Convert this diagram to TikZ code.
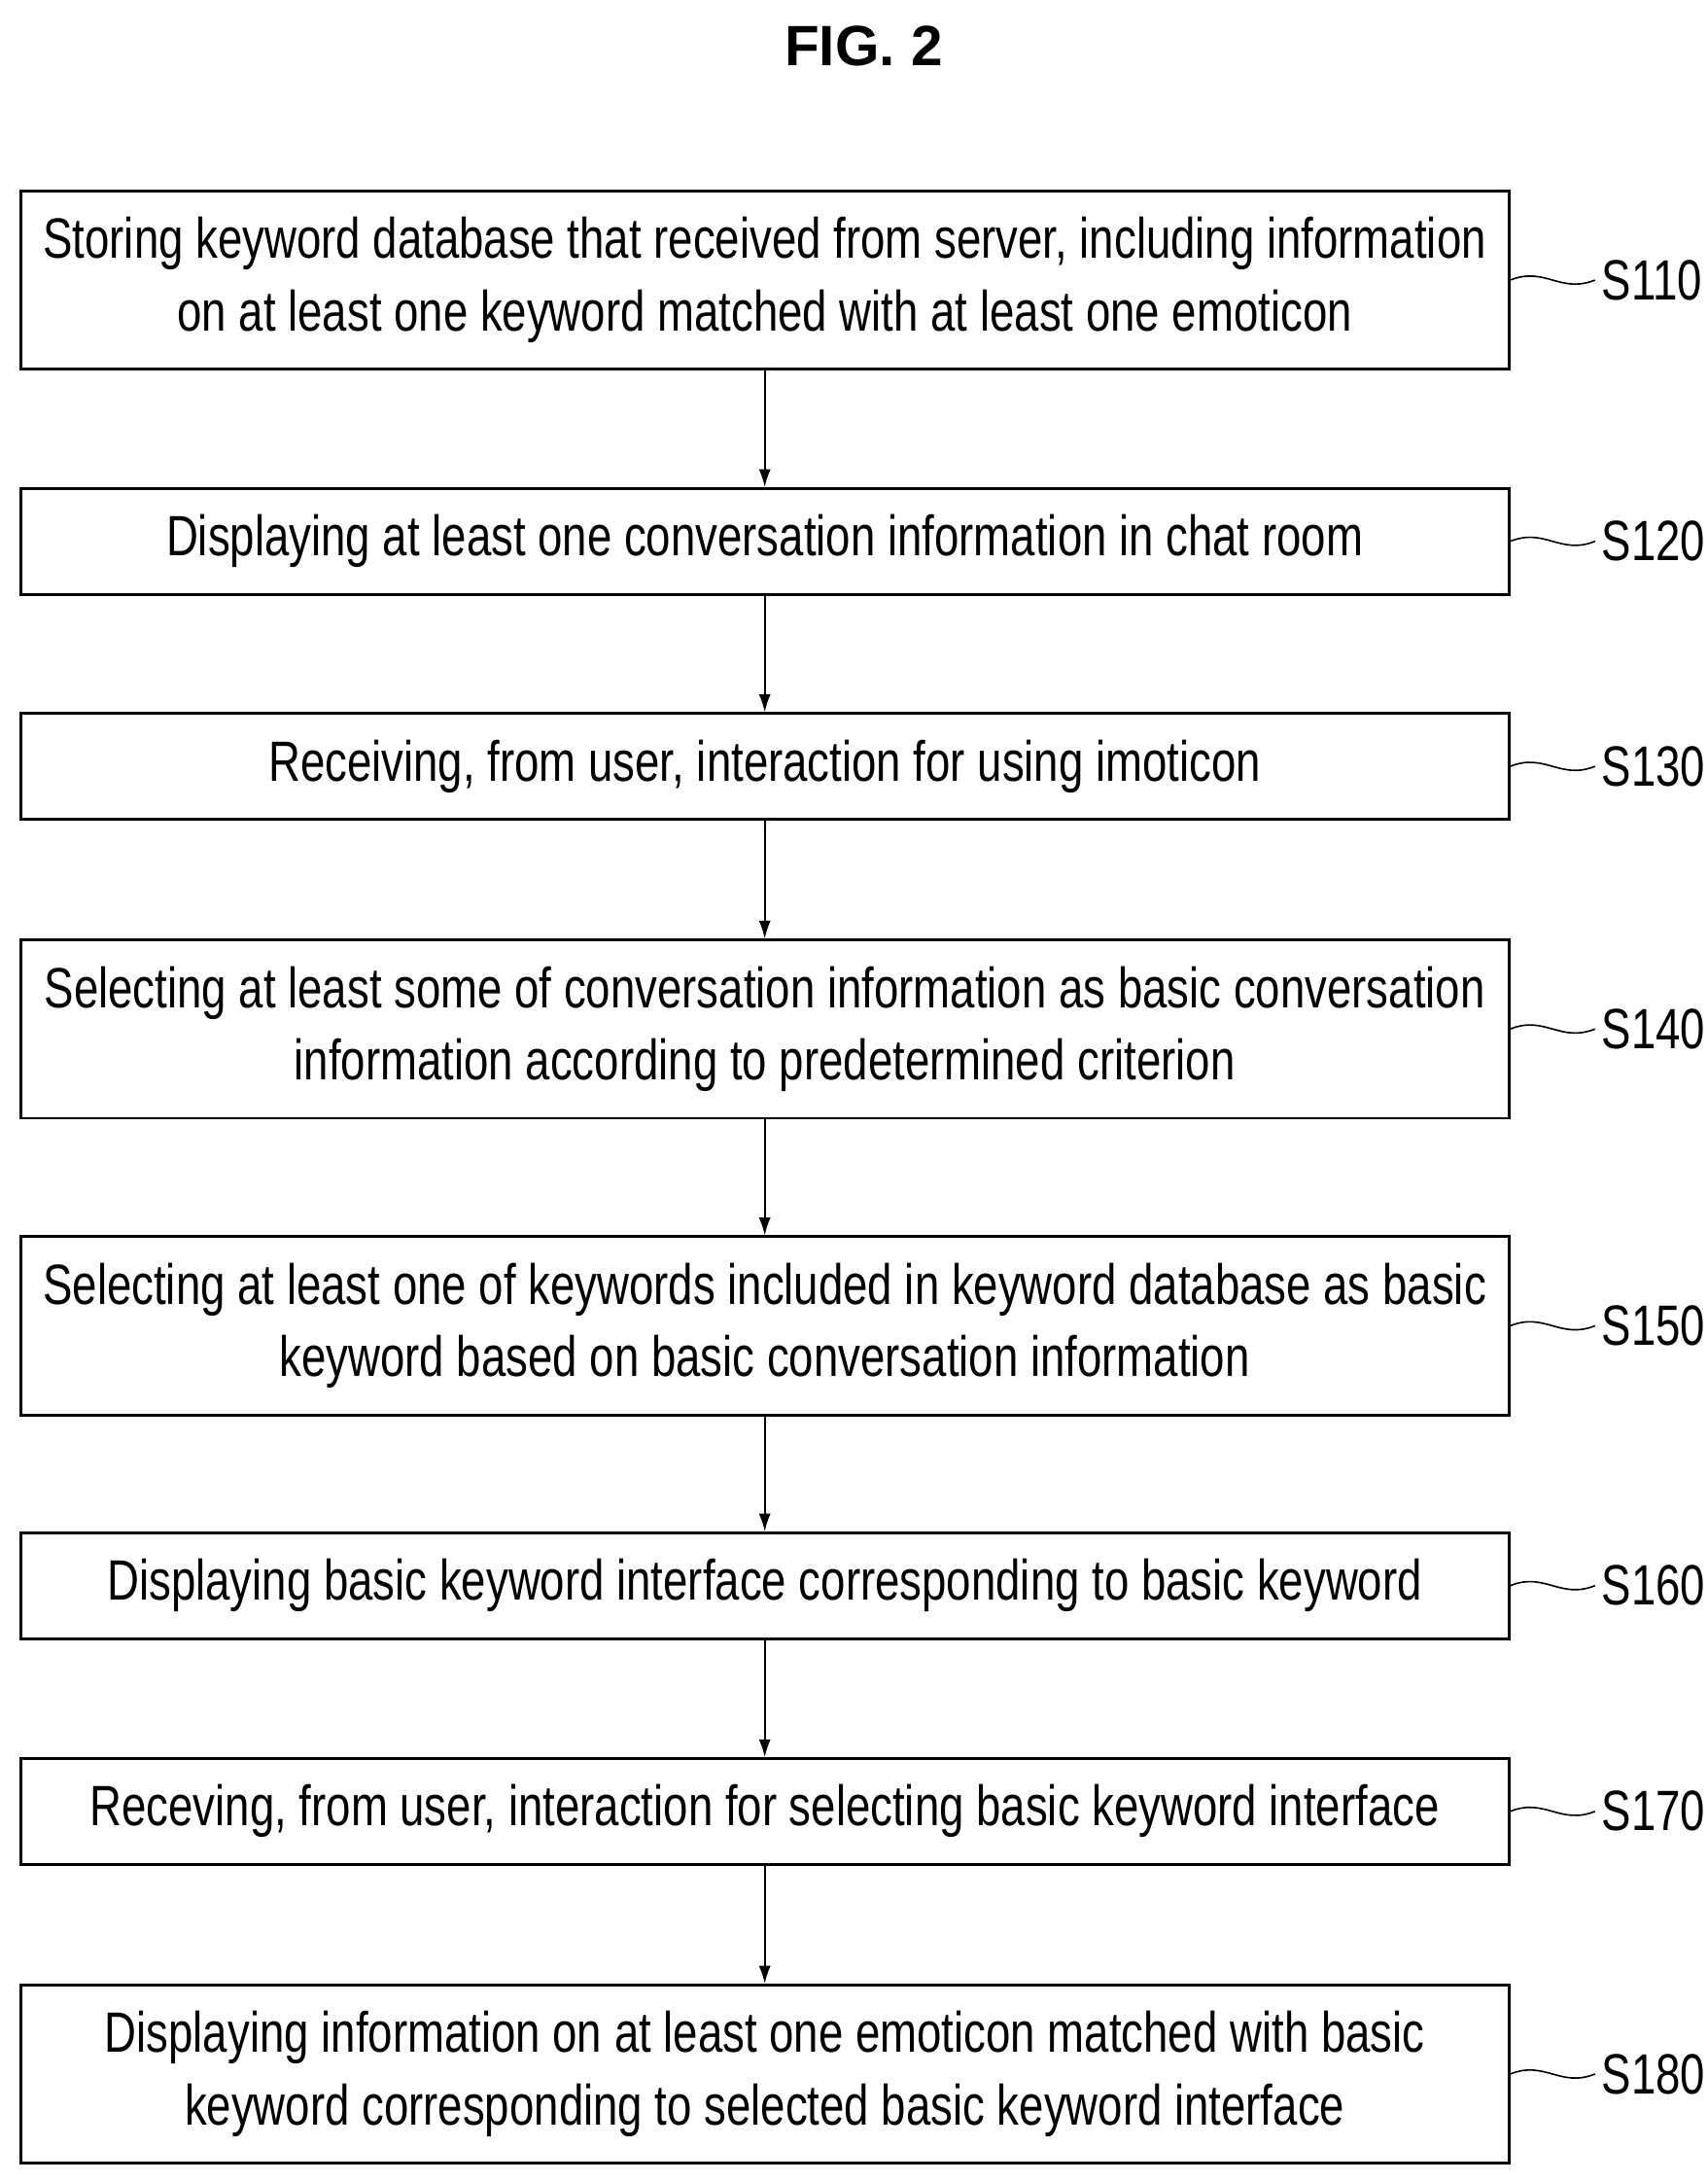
\documentclass[tikz,border=0pt]{standalone}
\usepackage{fontspec}
\setmainfont{Liberation Sans}[FakeStretch=0.78]
\newfontfamily\figfont{Liberation Sans}
\usetikzlibrary{arrows.meta}
\begin{document}
\begin{tikzpicture}[x=0.025cm,y=-0.025cm,
  stepbox/.style={draw, line width=1.4pt, minimum width=26.7cm, align=center,
    font=\fontsize{29}{37}\selectfont, inner sep=0pt},
  steplbl/.style={font=\fontsize{29}{34}\selectfont},
  flow/.style={-{Latex[length=9pt,width=6pt]}, line width=0.8pt}]
	  \useasboundingbox (0,0) rectangle (1226,1566);
	  \node [font=\figfont\bfseries\fontsize{29}{32}\selectfont] (title) at (620,33) {FIG. 2};

	  \foreach \name/\y/\h/\txt/\lbl in {
	    s110/201/128/{Storing keyword database that received from server, including information\\on at least one keyword matched with at least one emoticon}/S110,
	    s120/388.5/76/{Displaying at least one conversation information in chat room}/S120,
	    s130/550/76/{Receiving, from user, interaction for using imoticon}/S130,
	    s140/738.5/128/{Selecting at least some of conversation information as basic conversation\\information according to predetermined criterion}/S140,
	    s150/951.5/128/{Selecting at least one of keywords included in keyword database as basic\\keyword based on basic conversation information}/S150,
	    s160/1138/76/{Displaying basic keyword interface corresponding to basic keyword}/S160,
	    s170/1300/76/{Receving, from user, interaction for selecting basic keyword interface}/S170,
	    s180/1488.5/128/{Displaying information on at least one emoticon matched with basic\\keyword corresponding to selected basic keyword interface}/S180}
	  {
	    \node [stepbox, minimum height=\h*0.025cm] (\name) at (549,\y) {\txt};
	    \node [steplbl, anchor=west] (\name l) at (1145,\y) {\lbl};
	    \draw [line width=0.8pt] (\name.east) .. controls ++(25,-10) and ++(-25,10) .. (\name l.west);
	  }

	  \draw [flow] (s110) -- (s120);
	  \draw [flow] (s120) -- (s130);
	  \draw [flow] (s130) -- (s140);
	  \draw [flow] (s140) -- (s150);
	  \draw [flow] (s150) -- (s160);
	  \draw [flow] (s160) -- (s170);
	  \draw [flow] (s170) -- (s180);
\end{tikzpicture}
\end{document}
